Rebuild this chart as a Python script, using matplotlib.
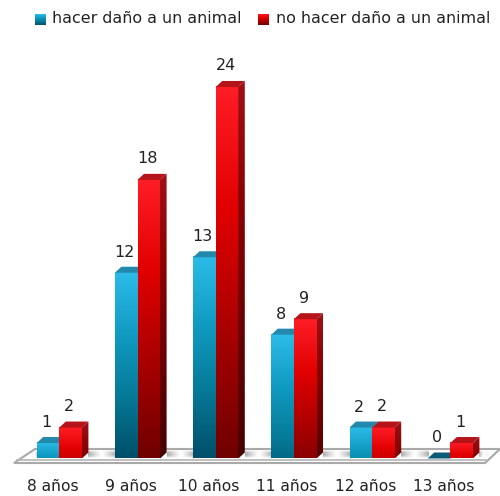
import numpy as np
import matplotlib
matplotlib.use("Agg")
import matplotlib.pyplot as plt
from matplotlib.colors import LinearSegmentedColormap, to_rgb
from matplotlib.patches import Polygon

categories = ["8 años", "9 años", "10 años", "11 años", "12 años", "13 años"]
series_names = ["hacer daño a un animal", "no hacer daño a un animal"]
danar = [1, 12, 13, 8, 2, 0]
no_danar = [2, 18, 24, 9, 2, 1]

FONT = "DejaVu Sans"
W, H = 500, 496
PX_PER_CAT, PX_PER_VAL = 78.2, 15.48
X0, BASE = 59.3, 458.5
BAR_W = 22.6 / PX_PER_CAT
DX, DY = 6.5 / PX_PER_CAT, 6.0 / PX_PER_VAL

stops_blue = ["#2cbbe8", "#109bc2", "#067a98", "#004f69"]
stops_red = ["#ff1d26", "#e00000", "#a80000", "#700000"]
cm_blue = LinearSegmentedColormap.from_list("b", stops_blue)
cm_red = LinearSegmentedColormap.from_list("r", stops_red)
side_blue = LinearSegmentedColormap.from_list("bs", [tuple(c * .6 for c in to_rgb(s)) for s in stops_blue])
side_red = LinearSegmentedColormap.from_list("rs", [tuple(c * .62 for c in to_rgb(s)) for s in stops_red])

fig = plt.figure(figsize=(W / 100, H / 100), dpi=100, facecolor="white")

# background layer in pixel coordinates: floor and legend swatches
bg = fig.add_axes([0, 0, 1, 1])
bg.set_xlim(0, W)
bg.set_ylim(H, 0)
bg.axis("off")

floor = Polygon([(14, 463), (35, 449), (500, 449), (485, 463)], closed=True,
                fc="white", ec="#a9a9a9", lw=1.5, zorder=1)
bg.add_patch(floor)
bg.plot([17, 486], [459.5, 459.5], color="#b4b4b4", lw=1.2, zorder=2)

# soft shadow on the floor between groups
for i in range(-1, 6):
    left = X0 + i * PX_PER_CAT + 23 + 6
    right = X0 + (i + 1) * PX_PER_CAT - 22
    left, right = max(left, 30), min(right, 490)
    n = 64
    u = np.linspace(0, 1, n)
    a = np.clip(np.abs(u - .5) * 2, 0, 1) ** 1.2 * .75
    if i == -1:
        a = a * u
    if i == 5:
        a = a * (1 - u)
    v = np.linspace(0, 1, 12)
    av = np.sin(v * np.pi) ** .6
    rgba = np.zeros((12, n, 4))
    rgba[..., :3] = .55
    rgba[..., 3] = np.outer(av, a)
    bg.imshow(rgba, extent=(left, right, 458.5, 450.5), aspect="auto", zorder=3,
              interpolation="bilinear")
bg.set_xlim(0, W)
bg.set_ylim(H, 0)

# swatches of the legend
grad = np.linspace(0, 1, 64).reshape(-1, 1)
for x0, cm in ((35, cm_blue), (257.5, cm_red)):
    bg.imshow(grad, cmap=cm, extent=(x0, x0 + 11, 25, 14), aspect="auto", zorder=4, vmin=0, vmax=1)
bg.set_xlim(0, W)
bg.set_ylim(H, 0)

# chart layer
ax = fig.add_axes([0, (H - BASE) / H, 1, BASE / H])
ax.patch.set_alpha(0)
xmin, xmax = -X0 / PX_PER_CAT, (W - X0) / PX_PER_CAT
ymax = BASE / PX_PER_VAL
for s in ax.spines.values():
    s.set_visible(False)


def bar(x_left, value, cm, cm_side, top_col, z):
    x_right = x_left + BAR_W
    end = min(1.0, .35 + .055 * value)
    g = np.linspace(0, end, 128).reshape(-1, 1)
    if value > 0:
        ax.imshow(g, cmap=cm, vmin=0, vmax=1, aspect="auto", zorder=z,
                  extent=(x_left, x_right, 0, value))
        im = ax.imshow(g, cmap=cm_side, vmin=0, vmax=1, aspect="auto", zorder=z,
                       extent=(x_right, x_right + DX, 0, value + DY))
        clip = Polygon([(x_right, 0), (x_right + DX, DY), (x_right + DX, value + DY), (x_right, value)],
                       transform=ax.transData)
        im.set_clip_path(clip)
    else:
        top_col = "#0b5a76"
    ax.add_patch(Polygon([(x_left, value), (x_left + DX, value + DY),
                          (x_right + DX, value + DY), (x_right, value)],
                         fc=top_col, ec="none", zorder=z))


for i, (a, b) in enumerate(zip(danar, no_danar)):
    bar(i - BAR_W, a, cm_blue, side_blue, "#2289ad", 2 * i + 3)
    bar(i, b, cm_red, side_red, "#b5141a", 2 * i + 4)
    ax.text(i - BAR_W / 2 - .02, a + DY + 14.5 / PX_PER_VAL, str(a), ha="center", va="center",
            fontsize=11.5, family=FONT, color="#222222", zorder=50)
    ax.text(i + BAR_W / 2 - .015, b + DY + 15 / PX_PER_VAL, str(b), ha="center", va="center",
            fontsize=11.5, family=FONT, color="#222222", zorder=50)

ax.set_xlim(xmin, xmax)
ax.set_ylim(0, ymax)
ax.set_yticks([])
ax.set_xticks(np.arange(len(categories)) - 6.8 / PX_PER_CAT)
ax.set_xticklabels(categories, fontsize=11.2, family=FONT, color="#222222")
ax.tick_params(axis="x", length=0, pad=14.5)

fig.text(52 / W, 1 - 18.5 / H, series_names[0], fontsize=11.4, family=FONT, color="#222222", ha="left", va="center")
fig.text(276.5 / W, 1 - 18.5 / H, series_names[1], fontsize=11.4, family=FONT, color="#222222", ha="left", va="center")

fig.savefig("out.png", dpi=100)
